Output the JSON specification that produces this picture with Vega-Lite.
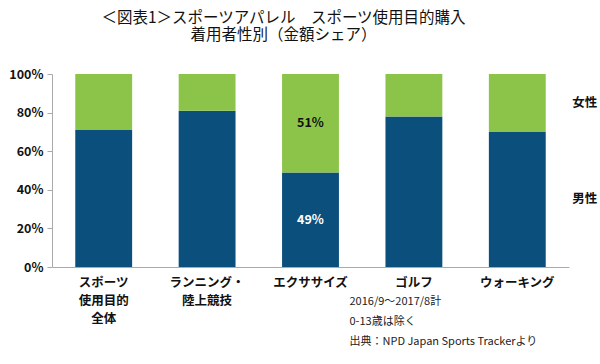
{
  "$schema": "https://vega.github.io/schema/vega-lite/v6.json",
  "autosize": "none",
  "width": 517,
  "height": 193,
  "padding": {"left": 52, "top": 74, "right": 31, "bottom": 97},
  "background": "white",
  "config": {"font": "Noto Sans CJK JP", "view": {"stroke": null}},
  "title": {
    "text": ["＜図表1＞スポーツアパレル　スポーツ使用目的購入", "着用者性別（金額シェア）"],
    "anchor": "middle",
    "frame": "group",
    "dx": -27,
    "offset": 25,
    "fontSize": 15.5,
    "fontWeight": "normal",
    "lineHeight": 17,
    "color": "#111"
  },
  "datasets": {
    "bars": [
      {"cat": "スポーツ|使用目的|全体", "gender": "男性", "value": 0.71},
      {"cat": "スポーツ|使用目的|全体", "gender": "女性", "value": 0.29},
      {"cat": "ランニング・|陸上競技", "gender": "男性", "value": 0.81},
      {"cat": "ランニング・|陸上競技", "gender": "女性", "value": 0.19},
      {"cat": "エクササイズ", "gender": "男性", "value": 0.49},
      {"cat": "エクササイズ", "gender": "女性", "value": 0.51},
      {"cat": "ゴルフ", "gender": "男性", "value": 0.78},
      {"cat": "ゴルフ", "gender": "女性", "value": 0.22},
      {"cat": "ウォーキング", "gender": "男性", "value": 0.70},
      {"cat": "ウォーキング", "gender": "女性", "value": 0.30}
    ],
    "labels": [
      {"cat": "エクササイズ", "gender": "男性", "value": 0.245, "label": "49%"},
      {"cat": "エクササイズ", "gender": "女性", "value": 0.745, "label": "51%"}
    ],
    "legend": [
      {"cat": "ウォーキング", "value": 0.85, "label": "女性"},
      {"cat": "ウォーキング", "value": 0.35, "label": "男性"}
    ]
  },
  "encoding": {
    "x": {
      "field": "cat",
      "type": "nominal",
      "sort": ["スポーツ|使用目的|全体", "ランニング・|陸上競技", "エクササイズ", "ゴルフ", "ウォーキング"],
      "scale": {"paddingInner": 0.45, "paddingOuter": 0.225},
      "axis": {
        "labelExpr": "split(datum.value, '|')",
        "labelAngle": 0,
        "labelFontSize": 12.5,
        "labelFontWeight": "bold",
        "labelColor": "#111",
        "labelLineHeight": 18,
        "labelPadding": 9,
        "labelBaseline": "top",
        "labelOverlap": false,
        "ticks": false,
        "domainColor": "#aaaaaa",
        "title": ["2016/9～2017/8計", "0-13歳は除く", "出典：NPD Japan Sports Trackerより"],
        "titleFontSize": 11,
        "titleFontWeight": "normal",
        "titleColor": "#222",
        "titleAlign": "left",
        "titleAnchor": "start",
        "titleBaseline": "top",
        "titleLineHeight": 20,
        "titleX": 297,
        "titleY": 28
      }
    },
    "y": {
      "field": "value",
      "type": "quantitative",
      "scale": {"domain": [0, 1]},
      "axis": {
        "values": [0, 0.2, 0.4, 0.6, 0.8, 1],
        "format": ".0%",
        "grid": false,
        "title": null,
        "labelOverlap": false,
        "labelFontSize": 12.5,
        "labelFontWeight": "bold",
        "labelColor": "#111",
        "labelPadding": 4,
        "tickSize": 5,
        "tickColor": "#aaaaaa",
        "domainColor": "#aaaaaa"
      }
    }
  },
  "layer": [
    {
      "data": {"name": "bars"},
      "mark": {"type": "bar"},
      "encoding": {
        "y": {
          "field": "value",
          "type": "quantitative",
          "stack": "zero"
        },
        "color": {
          "field": "gender",
          "type": "nominal",
          "scale": {"domain": ["男性", "女性"], "range": ["#0b4f7c", "#8cc44a"]},
          "legend": null
        },
        "order": {"field": "gender", "sort": "descending"}
      }
    },
    {
      "data": {"name": "labels"},
      "mark": {"type": "text", "fontSize": 12.5, "fontWeight": "bold"},
      "encoding": {
        "y": {"field": "value", "type": "quantitative", "stack": null},
        "text": {"field": "label"},
        "color": {
          "condition": {"test": "datum.gender === '男性'", "value": "white"},
          "value": "#111"
        }
      }
    },
    {
      "data": {"name": "legend"},
      "mark": {"type": "text", "fontSize": 12.5, "fontWeight": "bold", "align": "left", "dx": 55, "color": "#111"},
      "encoding": {
        "y": {"field": "value", "type": "quantitative", "stack": null},
        "text": {"field": "label"}
      }
    }
  ]
}
